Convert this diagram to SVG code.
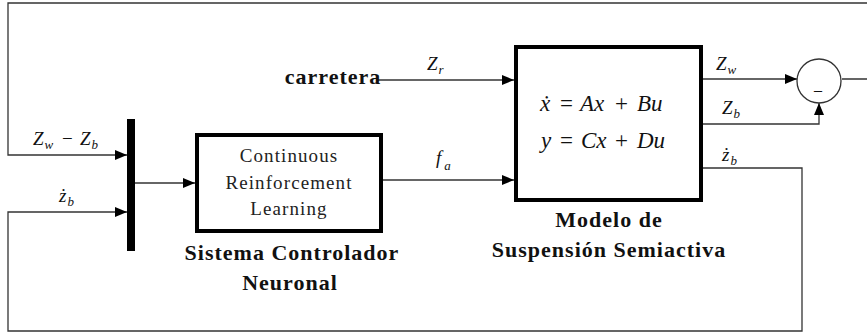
<svg xmlns="http://www.w3.org/2000/svg" width="867" height="335" viewBox="0 0 867 335">
  <style>
    .wire { fill: none; stroke: #333; stroke-width: 1.3; }
    .blk { fill: #fff; stroke: #000; stroke-width: 4; }
    .lbl { font-family: "Liberation Serif", "Times New Roman", serif; font-weight: bold; font-size: 22px; fill: #111; text-anchor: middle; letter-spacing: 1px; }
    .inner { font-family: "Liberation Serif", "Times New Roman", serif; font-size: 19px; fill: #222; text-anchor: middle; letter-spacing: 1.1px; }
    .math { font-family: "Liberation Serif", "Times New Roman", serif; font-style: italic; font-size: 19px; fill: #111; }
    .eq { font-family: "Liberation Serif", "Times New Roman", serif; font-style: italic; font-size: 23px; fill: #111; }
    .op { font-style: normal; }
    .sub { font-size: 13px; }
  </style>
  <defs>
    <marker id="arr" markerWidth="12" markerHeight="10" refX="12" refY="5" orient="auto" markerUnits="userSpaceOnUse">
      <path d="M0,0 L12,5 L0,10 z" fill="#000"/>
    </marker>
  </defs>

  <rect width="867" height="335" fill="#fff"/>

  <!-- connectors -->
  <g id="connectors">
    <path class="wire" d="M842,79 H869 V3 H8 V155 H127" marker-end="url(#arr)"/>
    <path class="wire" d="M703,168 H802 V331 H8 V212 H127" marker-end="url(#arr)"/>
    <path class="wire" d="M135,183 H195" marker-end="url(#arr)"/>
    <path class="wire" d="M378,80 H514" marker-end="url(#arr)"/>
    <path class="wire" d="M383,180 H514" marker-end="url(#arr)"/>
    <path class="wire" d="M703,79 H797" marker-end="url(#arr)"/>
    <path class="wire" d="M703,124 H819 V103" marker-end="url(#arr)"/>
  </g>

  <!-- signal labels -->
  <g id="signal-labels" class="math">
    <text x="33" y="145">Z<tspan class="sub" dx="1" dy="4">w</tspan><tspan class="op" x="62" y="145">−</tspan><tspan x="80">Z</tspan><tspan class="sub" dx="1" dy="4">b</tspan></text>
    <text x="59" y="202">ż<tspan class="sub" dx="1" dy="4">b</tspan></text>
    <text x="427" y="70">Z<tspan class="sub" dx="1" dy="4">r</tspan></text>
    <text x="436" y="164">f<tspan class="sub" dx="3" dy="6">a</tspan></text>
    <text x="716" y="70">Z<tspan class="sub" dx="1" dy="4">w</tspan></text>
    <text x="722" y="114">Z<tspan class="sub" dx="1" dy="4">b</tspan></text>
    <text x="722" y="161">ż<tspan class="sub" dx="1" dy="4">b</tspan></text>
  </g>

  <!-- multiplexer bar -->
  <g id="mux">
    <rect x="127" y="119" width="8" height="132" fill="#000"/>
  </g>

  <!-- neural controller block -->
  <g id="controller">
    <rect class="blk" x="197" y="135" width="184" height="96"/>
    <text class="inner" x="289" y="162">Continuous</text>
    <text class="inner" x="289" y="189">Reinforcement</text>
    <text class="inner" x="289" y="215">Learning</text>
    <text class="lbl" x="292" y="260">Sistema Controlador</text>
    <text class="lbl" x="290" y="290">Neuronal</text>
  </g>

  <!-- road input -->
  <g id="road">
    <text class="lbl" x="333" y="84">carretera</text>
  </g>

  <!-- semi-active suspension model -->
  <g id="model">
    <rect class="blk" x="516" y="47" width="185" height="153"/>
    <text class="eq" y="111"><tspan x="540">ẋ</tspan><tspan class="op" x="560">=</tspan><tspan x="580">Ax</tspan><tspan class="op" x="615">+</tspan><tspan x="637">Bu</tspan></text>
    <text class="eq" y="148"><tspan x="541">y</tspan><tspan class="op" x="560">=</tspan><tspan x="581">Cx</tspan><tspan class="op" x="615">+</tspan><tspan x="637">Du</tspan></text>
    <text class="lbl" x="609" y="227">Modelo de</text>
    <text class="lbl" x="609" y="257">Suspensión Semiactiva</text>
  </g>

  <!-- summing junction -->
  <g id="sum">
    <circle cx="819" cy="81" r="22" fill="#fff" stroke="#333" stroke-width="1.3"/>
    <text x="818" y="95" font-family="Liberation Serif, serif" font-size="16" text-anchor="middle" fill="#111">–</text>
  </g>
</svg>
